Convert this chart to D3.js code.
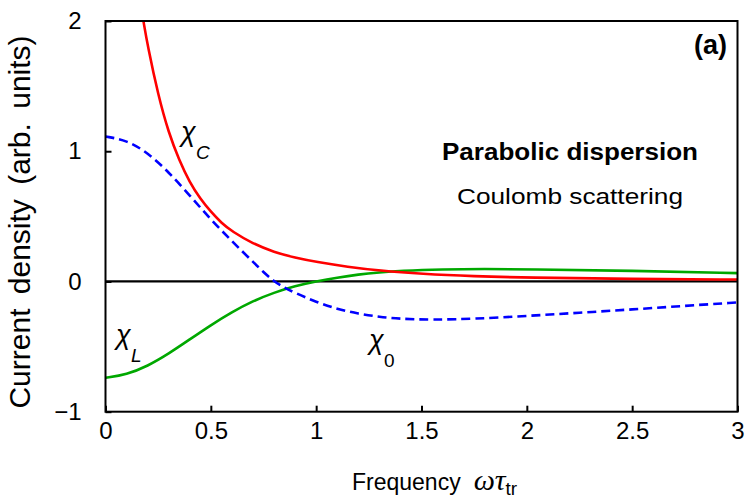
<!DOCTYPE html>
<html>
<head>
<meta charset="utf-8">
<script src="https://cdn.jsdelivr.net/npm/d3@7"></script>
<style>
  body { margin: 0; background: #fff; }
  text { font-family: "Liberation Sans", Arial, sans-serif; fill: #000; }
  .tick text { font-size: 24px; }
  .curve { fill: none; stroke-width: 2.6; }
</style>
</head>
<body>
<svg id="chart" width="747" height="498"></svg>
<script>
// chi_C (red, Coulomb)
var omegaC = [0.18, 0.2, 0.25, 0.3, 0.35, 0.4, 0.45, 0.5, 0.55, 0.6, 0.7, 0.8, 0.9, 1.0, 1.15, 1.3, 1.5, 1.75, 2.0, 2.5, 3.0];
var chiC   = [2.0, 1.81, 1.43, 1.14, 0.93, 0.76, 0.635, 0.535, 0.45, 0.385, 0.29, 0.225, 0.182, 0.15, 0.112, 0.083, 0.058, 0.04, 0.029, 0.019, 0.015];

// chi_0 (blue dashed)
var omega0 = [0, 0.1, 0.2, 0.3, 0.4, 0.5, 0.6, 0.7, 0.75, 0.8, 0.85, 0.9, 1.0, 1.1, 1.2, 1.3, 1.4, 1.55, 1.75, 2.0, 2.25, 2.5, 2.75, 3.0];
var chi0   = [1.113, 1.085, 0.99, 0.84, 0.66, 0.475, 0.31, 0.15, 0.072, 0.0, -0.048, -0.088, -0.158, -0.212, -0.248, -0.272, -0.287, -0.295, -0.287, -0.265, -0.24, -0.215, -0.187, -0.161];

// chi_L (green)
var omegaL = [0, 0.1, 0.2, 0.3, 0.4, 0.5, 0.6, 0.7, 0.8, 0.9, 1.0, 1.1, 1.2, 1.3, 1.4, 1.6, 1.8, 2.0, 2.5, 3.0];
var chiL   = [-0.74, -0.715, -0.65, -0.555, -0.445, -0.335, -0.235, -0.15, -0.085, -0.035, 0.0, 0.03, 0.054, 0.07, 0.082, 0.093, 0.096, 0.094, 0.082, 0.064];

var xTicks = [0, 0.5, 1, 1.5, 2, 2.5, 3];
var yTicks = [-1, 0, 1, 2];

var svg = d3.select("#chart");

var pLeft = 105.5, pTop = 21, pRight = 737.5, pBottom = 411.7;

var x = d3.scaleLinear().domain([0, 3]).range([pLeft, pRight]);
var y = d3.scaleLinear().domain([-1, 2]).range([pBottom, pTop]);

svg.append("clipPath")
    .attr("id", "plotclip")
  .append("rect")
    .attr("x", pLeft).attr("y", pTop)
    .attr("width", pRight - pLeft).attr("height", pBottom - pTop);

// axes (ticks pointing inward)
var xAxis = d3.axisBottom(x)
    .tickValues(xTicks)
    .tickFormat(d3.format("~g"))
    .tickSizeInner(-6).tickSizeOuter(0).tickPadding(10);
var yAxis = d3.axisLeft(y)
    .tickValues(yTicks)
    .tickFormat(d3.format("~g"))
    .tickSizeInner(-6).tickSizeOuter(0).tickPadding(24);

var gx = svg.append("g").attr("transform", "translate(0," + pBottom + ")").call(xAxis);
var gy = svg.append("g").attr("transform", "translate(" + pLeft + ",0)").call(yAxis);
gx.select(".domain").remove();
gy.select(".domain").remove();
svg.selectAll(".tick line").attr("stroke", "#000").attr("stroke-width", 2);
svg.selectAll(".tick text").attr("font-family", null).attr("font-size", null);

// zero line
svg.append("line")
    .attr("x1", pLeft).attr("x2", pRight)
    .attr("y1", y(0)).attr("y2", y(0))
    .attr("stroke", "#000").attr("stroke-width", 2.2);

var line = d3.line()
    .x(function(d) { return x(d[0]); })
    .y(function(d) { return y(d[1]); })
    .curve(d3.curveBasis);

var plot = svg.append("g").attr("clip-path", "url(#plotclip)");

plot.append("path")
    .datum(d3.zip(omegaL, chiL))
    .attr("class", "curve")
    .attr("stroke", "#00a800")
    .attr("d", line);
plot.append("path")
    .datum(d3.zip(omegaC, chiC))
    .attr("class", "curve")
    .attr("stroke", "#ff0000")
    .attr("d", line);
plot.append("path")
    .datum(d3.zip(omega0, chi0))
    .attr("class", "curve")
    .attr("stroke", "#0000ff")
    .attr("stroke-width", 2.8)
    .attr("stroke-dasharray", "9,5")
    .attr("d", line);

// frame
svg.append("rect")
    .attr("x", pLeft).attr("y", pTop)
    .attr("width", pRight - pLeft).attr("height", pBottom - pTop)
    .attr("fill", "none").attr("stroke", "#000").attr("stroke-width", 2);

// curve labels
function chiLabel(px, py, sub, subItalic) {
    svg.append("text")
        .attr("x", px).attr("y", py)
        .attr("font-family", "Liberation Serif, serif")
        .attr("font-style", "italic")
        .attr("font-size", 27)
        .text("\u03C7");
    svg.append("text")
        .attr("x", px + 15).attr("y", py + 18)
        .attr("font-style", subItalic ? "italic" : "normal")
        .attr("font-size", 19)
        .text(sub);
}
chiLabel(181, 141, "C", true);
chiLabel(116, 344, "L", true);
chiLabel(369, 349, "0", false);

// annotations
svg.append("text")
    .attr("x", 727).attr("y", 54)
    .attr("text-anchor", "end")
    .attr("font-weight", "bold")
    .attr("font-size", 27)
    .text("(a)");
svg.append("text")
    .attr("x", 570).attr("y", 160)
    .attr("text-anchor", "middle")
    .attr("font-weight", "bold")
    .attr("font-size", 23)
    .attr("textLength", 256)
    .attr("lengthAdjust", "spacingAndGlyphs")
    .text("Parabolic dispersion");
svg.append("text")
    .attr("x", 570).attr("y", 204)
    .attr("text-anchor", "middle")
    .attr("font-size", 22)
    .attr("textLength", 226)
    .attr("lengthAdjust", "spacingAndGlyphs")
    .text("Coulomb scattering");

// axis titles
var xt = svg.append("text")
    .attr("x", 352).attr("y", 490)
    .attr("font-size", 23);
xt.append("tspan").text("Frequency");
xt.append("tspan")
    .attr("dx", 13)
    .attr("font-family", "Liberation Serif, serif")
    .attr("font-style", "italic")
    .attr("font-size", 30)
    .text("\u03C9\u03C4");
xt.append("tspan")
    .attr("dy", 5)
    .attr("font-size", 19)
    .text("tr");

svg.append("text")
    .attr("transform", "translate(30,222) rotate(-90)")
    .attr("text-anchor", "middle")
    .attr("font-size", 30)
    .attr("word-spacing", 6)
    .text("Current density (arb. units)");
</script>
</body>
</html>
